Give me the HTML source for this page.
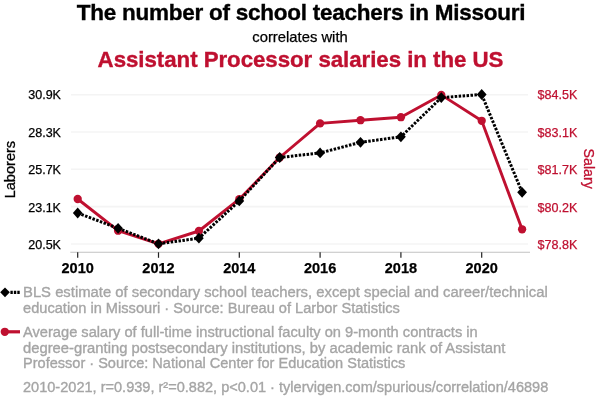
<!DOCTYPE html>
<html lang="en"><head><meta charset="utf-8"><title>Spurious correlation</title>
<style>html,body{margin:0;padding:0;background:#fff}body{width:600px;height:408px;overflow:hidden}svg{display:block}text{font-family:"Liberation Sans",Arial,Helvetica,sans-serif}</style></head><body>
<svg width="600" height="408" viewBox="0 0 600 408" style="will-change:transform">
<rect width="600" height="408" fill="#fff"/>
<text x="76.8" y="20" font-size="22.5" font-weight="bold" fill="#000" stroke="#000" stroke-width="0.35" textLength="448.6" lengthAdjust="spacing">The number of school teachers in Missouri</text>
<text x="300" y="41.6" text-anchor="middle" font-size="14.6" fill="#000" stroke="#000" stroke-width="0.25" textLength="95.5" lengthAdjust="spacingAndGlyphs">correlates with</text>
<text x="97.6" y="67.3" font-size="22.3" font-weight="bold" fill="#bf1030" stroke="#bf1030" stroke-width="0.35" textLength="405.8" lengthAdjust="spacing">Assistant Processor salaries in the US</text>
<line x1="71" x2="528" y1="94.7" y2="94.7" stroke="#f4f4f4" stroke-width="1.6"/>
<line x1="71" x2="528" y1="132.0" y2="132.0" stroke="#f4f4f4" stroke-width="1.6"/>
<line x1="71" x2="528" y1="169.2" y2="169.2" stroke="#f4f4f4" stroke-width="1.6"/>
<line x1="71" x2="528" y1="206.6" y2="206.6" stroke="#f4f4f4" stroke-width="1.6"/>
<line x1="71" x2="528" y1="244.0" y2="244.0" stroke="#f4f4f4" stroke-width="1.6"/>
<line x1="70.3" x2="530" y1="252.3" y2="252.3" stroke="#c2c2c2" stroke-width="1.1"/>
<line x1="77.7" x2="77.7" y1="252.3" y2="257.8" stroke="#222" stroke-width="1.2"/>
<text x="77.7" y="272.9" text-anchor="middle" font-size="14.6" font-weight="bold" fill="#000" stroke="#000" stroke-width="0.25" textLength="32.3" lengthAdjust="spacingAndGlyphs">2010</text>
<line x1="158.5" x2="158.5" y1="252.3" y2="257.8" stroke="#222" stroke-width="1.2"/>
<text x="158.5" y="272.9" text-anchor="middle" font-size="14.6" font-weight="bold" fill="#000" stroke="#000" stroke-width="0.25" textLength="32.3" lengthAdjust="spacingAndGlyphs">2012</text>
<line x1="239.3" x2="239.3" y1="252.3" y2="257.8" stroke="#222" stroke-width="1.2"/>
<text x="239.3" y="272.9" text-anchor="middle" font-size="14.6" font-weight="bold" fill="#000" stroke="#000" stroke-width="0.25" textLength="32.3" lengthAdjust="spacingAndGlyphs">2014</text>
<line x1="320.1" x2="320.1" y1="252.3" y2="257.8" stroke="#222" stroke-width="1.2"/>
<text x="320.1" y="272.9" text-anchor="middle" font-size="14.6" font-weight="bold" fill="#000" stroke="#000" stroke-width="0.25" textLength="32.3" lengthAdjust="spacingAndGlyphs">2016</text>
<line x1="400.9" x2="400.9" y1="252.3" y2="257.8" stroke="#222" stroke-width="1.2"/>
<text x="400.9" y="272.9" text-anchor="middle" font-size="14.6" font-weight="bold" fill="#000" stroke="#000" stroke-width="0.25" textLength="32.3" lengthAdjust="spacingAndGlyphs">2018</text>
<line x1="481.7" x2="481.7" y1="252.3" y2="257.8" stroke="#222" stroke-width="1.2"/>
<text x="481.7" y="272.9" text-anchor="middle" font-size="14.6" font-weight="bold" fill="#000" stroke="#000" stroke-width="0.25" textLength="32.3" lengthAdjust="spacingAndGlyphs">2020</text>
<text x="61" y="98.7" text-anchor="end" font-size="12.4" fill="#000" stroke="#000" stroke-width="0.25" textLength="32.8" lengthAdjust="spacingAndGlyphs">30.9K</text>
<text x="537.5" y="98.7" font-size="12.4" fill="#bf1030" stroke="#bf1030" stroke-width="0.25" textLength="39.8" lengthAdjust="spacingAndGlyphs">$84.5K</text>
<text x="61" y="136.5" text-anchor="end" font-size="12.4" fill="#000" stroke="#000" stroke-width="0.25" textLength="32.8" lengthAdjust="spacingAndGlyphs">28.3K</text>
<text x="537.5" y="136.5" font-size="12.4" fill="#bf1030" stroke="#bf1030" stroke-width="0.25" textLength="39.8" lengthAdjust="spacingAndGlyphs">$83.1K</text>
<text x="61" y="173.8" text-anchor="end" font-size="12.4" fill="#000" stroke="#000" stroke-width="0.25" textLength="32.8" lengthAdjust="spacingAndGlyphs">25.7K</text>
<text x="537.5" y="173.8" font-size="12.4" fill="#bf1030" stroke="#bf1030" stroke-width="0.25" textLength="39.8" lengthAdjust="spacingAndGlyphs">$81.7K</text>
<text x="61" y="211.7" text-anchor="end" font-size="12.4" fill="#000" stroke="#000" stroke-width="0.25" textLength="32.8" lengthAdjust="spacingAndGlyphs">23.1K</text>
<text x="537.5" y="211.7" font-size="12.4" fill="#bf1030" stroke="#bf1030" stroke-width="0.25" textLength="39.8" lengthAdjust="spacingAndGlyphs">$80.2K</text>
<text x="61" y="248.6" text-anchor="end" font-size="12.4" fill="#000" stroke="#000" stroke-width="0.25" textLength="32.8" lengthAdjust="spacingAndGlyphs">20.5K</text>
<text x="537.5" y="248.6" font-size="12.4" fill="#bf1030" stroke="#bf1030" stroke-width="0.25" textLength="39.8" lengthAdjust="spacingAndGlyphs">$78.8K</text>
<text transform="translate(14.5 169.6) rotate(-90)" text-anchor="middle" font-size="14.6" fill="#000" stroke="#000" stroke-width="0.3" textLength="57.5" lengthAdjust="spacingAndGlyphs">Laborers</text>
<text transform="translate(584.2 168.7) rotate(90)" text-anchor="middle" font-size="14.8" fill="#bf1030" stroke="#bf1030" stroke-width="0.3" textLength="40.5" lengthAdjust="spacingAndGlyphs">Salary</text>
<polyline points="77.7,199.0 118.1,230.7 158.5,243.8 198.9,231.0 239.3,199.2 279.7,157.5 320.1,123.4 360.5,120.2 400.9,117.2 441.3,94.9 481.7,120.8 522.1,229.3" fill="none" stroke="#bf1030" stroke-width="2.9" stroke-linejoin="round" stroke-linecap="round"/>
<circle cx="77.7" cy="199.0" r="4.15" fill="#bf1030"/>
<circle cx="118.1" cy="230.7" r="4.15" fill="#bf1030"/>
<circle cx="158.5" cy="243.8" r="4.15" fill="#bf1030"/>
<circle cx="198.9" cy="231.0" r="4.15" fill="#bf1030"/>
<circle cx="239.3" cy="199.2" r="4.15" fill="#bf1030"/>
<circle cx="279.7" cy="157.5" r="4.15" fill="#bf1030"/>
<circle cx="320.1" cy="123.4" r="4.15" fill="#bf1030"/>
<circle cx="360.5" cy="120.2" r="4.15" fill="#bf1030"/>
<circle cx="400.9" cy="117.2" r="4.15" fill="#bf1030"/>
<circle cx="441.3" cy="94.9" r="4.15" fill="#bf1030"/>
<circle cx="481.7" cy="120.8" r="4.15" fill="#bf1030"/>
<circle cx="522.1" cy="229.3" r="4.15" fill="#bf1030"/>
<polyline points="77.7,213.0 118.1,228.3 158.5,243.8 198.9,238.2 239.3,200.9 279.7,157.5 320.1,152.9 360.5,142.3 400.9,136.8 441.3,97.6 481.7,94.5 522.1,192.3" fill="none" stroke="#000" stroke-width="3.0" stroke-dasharray="2.5 1.45" stroke-linejoin="round"/>
<path d="M77.7 207.6L82.5 213.0L77.7 218.4L72.9 213.0Z" fill="#000"/>
<path d="M118.1 222.9L122.9 228.3L118.1 233.7L113.2 228.3Z" fill="#000"/>
<path d="M158.5 238.4L163.3 243.8L158.5 249.2L153.7 243.8Z" fill="#000"/>
<path d="M198.9 232.8L203.7 238.2L198.9 243.6L194.0 238.2Z" fill="#000"/>
<path d="M239.3 195.5L244.2 200.9L239.3 206.3L234.5 200.9Z" fill="#000"/>
<path d="M279.7 152.1L284.6 157.5L279.7 162.9L274.8 157.5Z" fill="#000"/>
<path d="M320.1 147.5L324.9 152.9L320.1 158.3L315.2 152.9Z" fill="#000"/>
<path d="M360.5 136.9L365.4 142.3L360.5 147.7L355.6 142.3Z" fill="#000"/>
<path d="M400.9 131.4L405.8 136.8L400.9 142.2L396.0 136.8Z" fill="#000"/>
<path d="M441.3 92.2L446.1 97.6L441.3 103.0L436.4 97.6Z" fill="#000"/>
<path d="M481.7 89.1L486.6 94.5L481.7 99.9L476.8 94.5Z" fill="#000"/>
<path d="M522.1 186.9L527.0 192.3L522.1 197.7L517.2 192.3Z" fill="#000"/>
<line x1="10.4" x2="19.9" y1="292.3" y2="292.3" stroke="#000" stroke-width="3.2" stroke-dasharray="2.4 1.05"/>
<path d="M5.0 287.4L9.8 292.3L5.0 297.2L0.2 292.3Z" fill="#000"/>
<line x1="5" x2="20" y1="331.8" y2="331.8" stroke="#bf1030" stroke-width="3.2"/>
<circle cx="4.8" cy="331.8" r="4.15" fill="#bf1030"/>
<text x="23" y="297.0" font-size="15.1" fill="#a5a5a5" stroke="#a5a5a5" stroke-width="0.35" textLength="524.7" lengthAdjust="spacingAndGlyphs">BLS estimate of secondary school teachers, except special and career/technical</text>
<text x="23" y="312.6" font-size="15.1" fill="#a5a5a5" stroke="#a5a5a5" stroke-width="0.35" textLength="376.9" lengthAdjust="spacingAndGlyphs">education in Missouri · Source: Bureau of Larbor Statistics</text>
<text x="23" y="337.0" font-size="15.1" fill="#a5a5a5" stroke="#a5a5a5" stroke-width="0.35" textLength="454.7" lengthAdjust="spacingAndGlyphs">Average salary of full-time instructional faculty on 9-month contracts in</text>
<text x="23" y="352.6" font-size="15.1" fill="#a5a5a5" stroke="#a5a5a5" stroke-width="0.35" textLength="482.3" lengthAdjust="spacingAndGlyphs">degree-granting postsecondary institutions, by academic rank of Assistant</text>
<text x="23" y="368.4" font-size="15.1" fill="#a5a5a5" stroke="#a5a5a5" stroke-width="0.35" textLength="382.4" lengthAdjust="spacingAndGlyphs">Professor · Source: National Center for Education Statistics</text>
<text x="23" y="391.5" font-size="15.1" fill="#a5a5a5" stroke="#a5a5a5" stroke-width="0.35" textLength="525.3" lengthAdjust="spacingAndGlyphs">2010-2021, r=0.939, r²=0.882, p&lt;0.01 · tylervigen.com/spurious/correlation/46898</text>
</svg></body></html>
